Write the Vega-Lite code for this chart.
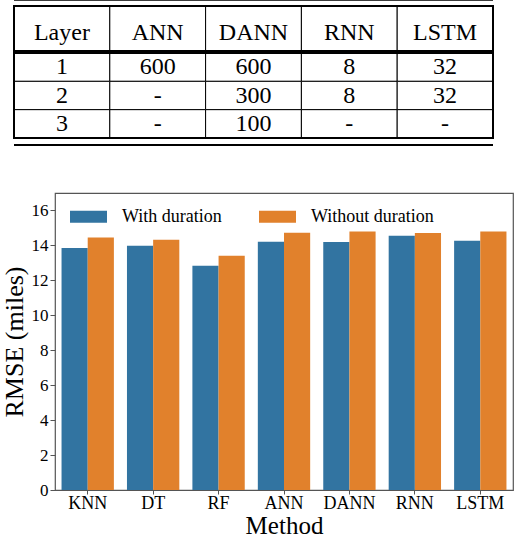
{
  "$schema": "https://vega.github.io/schema/vega-lite/v6.json",
  "padding": {"left": 0, "top": -2, "right": 1, "bottom": 0},
  "datasets": {
    "layers": [
      {"row": "Layer", "col": "Layer", "units": "Layer"},
      {"row": "Layer", "col": "ANN", "units": "ANN"},
      {"row": "Layer", "col": "DANN", "units": "DANN"},
      {"row": "Layer", "col": "RNN", "units": "RNN"},
      {"row": "Layer", "col": "LSTM", "units": "LSTM"},
      {"row": "1", "col": "Layer", "units": "1"},
      {"row": "1", "col": "ANN", "units": "600"},
      {"row": "1", "col": "DANN", "units": "600"},
      {"row": "1", "col": "RNN", "units": "8"},
      {"row": "1", "col": "LSTM", "units": "32"},
      {"row": "2", "col": "Layer", "units": "2"},
      {"row": "2", "col": "ANN", "units": "-"},
      {"row": "2", "col": "DANN", "units": "300"},
      {"row": "2", "col": "RNN", "units": "8"},
      {"row": "2", "col": "LSTM", "units": "32"},
      {"row": "3", "col": "Layer", "units": "3"},
      {"row": "3", "col": "ANN", "units": "-"},
      {"row": "3", "col": "DANN", "units": "100"},
      {"row": "3", "col": "RNN", "units": "-"},
      {"row": "3", "col": "LSTM", "units": "-"}
    ],
    "rmse": [
      {"method": "KNN", "group": "With duration", "rmse": 13.85},
      {"method": "KNN", "group": "Without duration", "rmse": 14.46},
      {"method": "DT", "group": "With duration", "rmse": 13.98},
      {"method": "DT", "group": "Without duration", "rmse": 14.33},
      {"method": "RF", "group": "With duration", "rmse": 12.84},
      {"method": "RF", "group": "Without duration", "rmse": 13.41},
      {"method": "ANN", "group": "With duration", "rmse": 14.21},
      {"method": "ANN", "group": "Without duration", "rmse": 14.73},
      {"method": "DANN", "group": "With duration", "rmse": 14.19},
      {"method": "DANN", "group": "Without duration", "rmse": 14.79},
      {"method": "RNN", "group": "With duration", "rmse": 14.56},
      {"method": "RNN", "group": "Without duration", "rmse": 14.71},
      {"method": "LSTM", "group": "With duration", "rmse": 14.27},
      {"method": "LSTM", "group": "Without duration", "rmse": 14.8}
    ]
  },
  "spacing": 46,
  "resolve": {"legend": {"color": "independent"}},
  "vconcat": [
    {
      "spacing": 0,
      "vconcat": [
        {
          "width": 479,
          "height": 45,
          "data": {"name": "layers"},
          "transform": [{"filter": "datum.row === 'Layer'"}],
          "layer": [
            {
              "mark": {"type": "rect", "fill": "white", "stroke": "black", "strokeWidth": 1, "xOffset": -41, "x2Offset": -41},
              "encoding": {
                "x": {"field": "col", "type": "nominal", "sort": ["Layer", "ANN", "DANN", "RNN", "LSTM"], "scale": {"paddingInner": 0, "paddingOuter": 0}, "axis": null},
                "y": {"field": "row", "type": "nominal", "scale": {"paddingInner": 0, "paddingOuter": 0}, "axis": null}
              }
            },
            {
              "mark": {"type": "text", "font": "Liberation Serif", "fontSize": 24, "color": "black", "dy": 4, "xOffset": -41},
              "encoding": {
                "x": {"field": "col", "type": "nominal", "sort": ["Layer", "ANN", "DANN", "RNN", "LSTM"]},
                "y": {"field": "row", "type": "nominal"},
                "text": {"field": "units"}
              }
            },
            {
              "mark": {"type": "rect", "fill": null, "stroke": "black", "strokeWidth": 1.5, "xOffset": -41, "x2Offset": -41},
              "encoding": {
                "x": {"datum": "Layer", "type": "nominal", "bandPosition": 0},
                "x2": {"datum": "LSTM", "bandPosition": 1}
              }
            },
            {
              "mark": {"type": "rule", "stroke": "black", "strokeWidth": 1.6, "xOffset": -41, "x2Offset": -41, "yOffset": -6.5},
              "encoding": {
                "x": {"datum": "Layer", "type": "nominal", "bandPosition": 0},
                "x2": {"datum": "LSTM", "bandPosition": 1},
                "y": {"datum": "Layer", "type": "nominal", "bandPosition": 0}
              }
            }
          ]
        },
        {
          "width": 479,
          "height": 85,
          "data": {"name": "layers"},
          "transform": [{"filter": "datum.row !== 'Layer'"}],
          "layer": [
            {
              "mark": {"type": "rect", "fill": "white", "stroke": "black", "strokeWidth": 1, "xOffset": -41, "x2Offset": -41},
              "encoding": {
                "x": {"field": "col", "type": "nominal", "sort": ["Layer", "ANN", "DANN", "RNN", "LSTM"], "scale": {"paddingInner": 0, "paddingOuter": 0}, "axis": null},
                "y": {"field": "row", "type": "nominal", "sort": ["1", "2", "3"], "scale": {"paddingInner": 0, "paddingOuter": 0}, "axis": null}
              }
            },
            {
              "mark": {"type": "text", "font": "Liberation Serif", "fontSize": 24, "color": "black", "dy": 0, "xOffset": -41},
              "encoding": {
                "x": {"field": "col", "type": "nominal", "sort": ["Layer", "ANN", "DANN", "RNN", "LSTM"]},
                "y": {"field": "row", "type": "nominal", "sort": ["1", "2", "3"]},
                "text": {"field": "units"}
              }
            },
            {
              "mark": {"type": "rect", "fill": null, "stroke": "black", "strokeWidth": 1.5, "xOffset": -41, "x2Offset": -41},
              "encoding": {
                "x": {"datum": "Layer", "type": "nominal", "bandPosition": 0},
                "x2": {"datum": "LSTM", "bandPosition": 1}
              }
            },
            {
              "mark": {"type": "rule", "stroke": "black", "strokeWidth": 1.6, "xOffset": -41, "x2Offset": -41, "yOffset": 7},
              "encoding": {
                "x": {"datum": "Layer", "type": "nominal", "bandPosition": 0},
                "x2": {"datum": "LSTM", "bandPosition": 1},
                "y": {"datum": "3", "type": "nominal", "bandPosition": 1}
              }
            }
          ]
        }
      ]
    },
    {
      "width": 458,
      "height": 297,
      "data": {"name": "rmse"},
      "view": {"stroke": "#555", "strokeWidth": 1.2},
      "mark": {"type": "bar"},
      "encoding": {
        "x": {
          "field": "method",
          "type": "nominal",
          "sort": ["KNN", "DT", "RF", "ANN", "DANN", "RNN", "LSTM"],
          "scale": {"paddingInner": 0.2, "paddingOuter": 0.1},
          "axis": {
            "title": "Method",
            "labelAngle": 0,
            "labelFontSize": 18,
            "labelPadding": 0,
            "tickSize": 4,
            "titlePadding": 1,
            "titleFontSize": 25,
            "domain": false
          }
        },
        "xOffset": {"field": "group", "type": "nominal", "sort": ["With duration", "Without duration"]},
        "y": {
          "field": "rmse",
          "type": "quantitative",
          "scale": {"domain": [0, 17], "nice": false},
          "axis": {
            "title": "RMSE (miles)",
            "values": [0, 2, 4, 6, 8, 10, 12, 14, 16],
            "grid": false,
            "domain": false,
            "labelFontSize": 17,
            "labelPadding": 2,
            "tickSize": 5,
            "titlePadding": 4
          }
        },
        "color": {
          "field": "group",
          "type": "nominal",
          "scale": {"domain": ["With duration", "Without duration"], "range": ["#3274a1", "#e1812c"]},
          "legend": {
            "orient": "none",
            "legendX": 15,
            "legendY": 5,
            "direction": "horizontal",
            "title": null,
            "symbolType": "M-1,-0.32H1V0.32H-1Z",
            "symbolSize": 1369,
            "symbolStrokeWidth": 0,
            "symbolOpacity": 1,
            "labelFontSize": 18,
            "labelFont": "Liberation Serif",
            "labelColor": "black",
            "labelOffset": 15,
            "columnPadding": 37
          }
        }
      }
    }
  ],
  "config": {
    "font": "Liberation Serif",
    "view": {"stroke": null},
    "axis": {
      "labelFont": "Liberation Serif",
      "labelColor": "black",
      "titleFont": "Liberation Serif",
      "titleFontSize": 26,
      "titleFontWeight": "normal",
      "titleColor": "black",
      "tickColor": "#555"
    }
  }
}
